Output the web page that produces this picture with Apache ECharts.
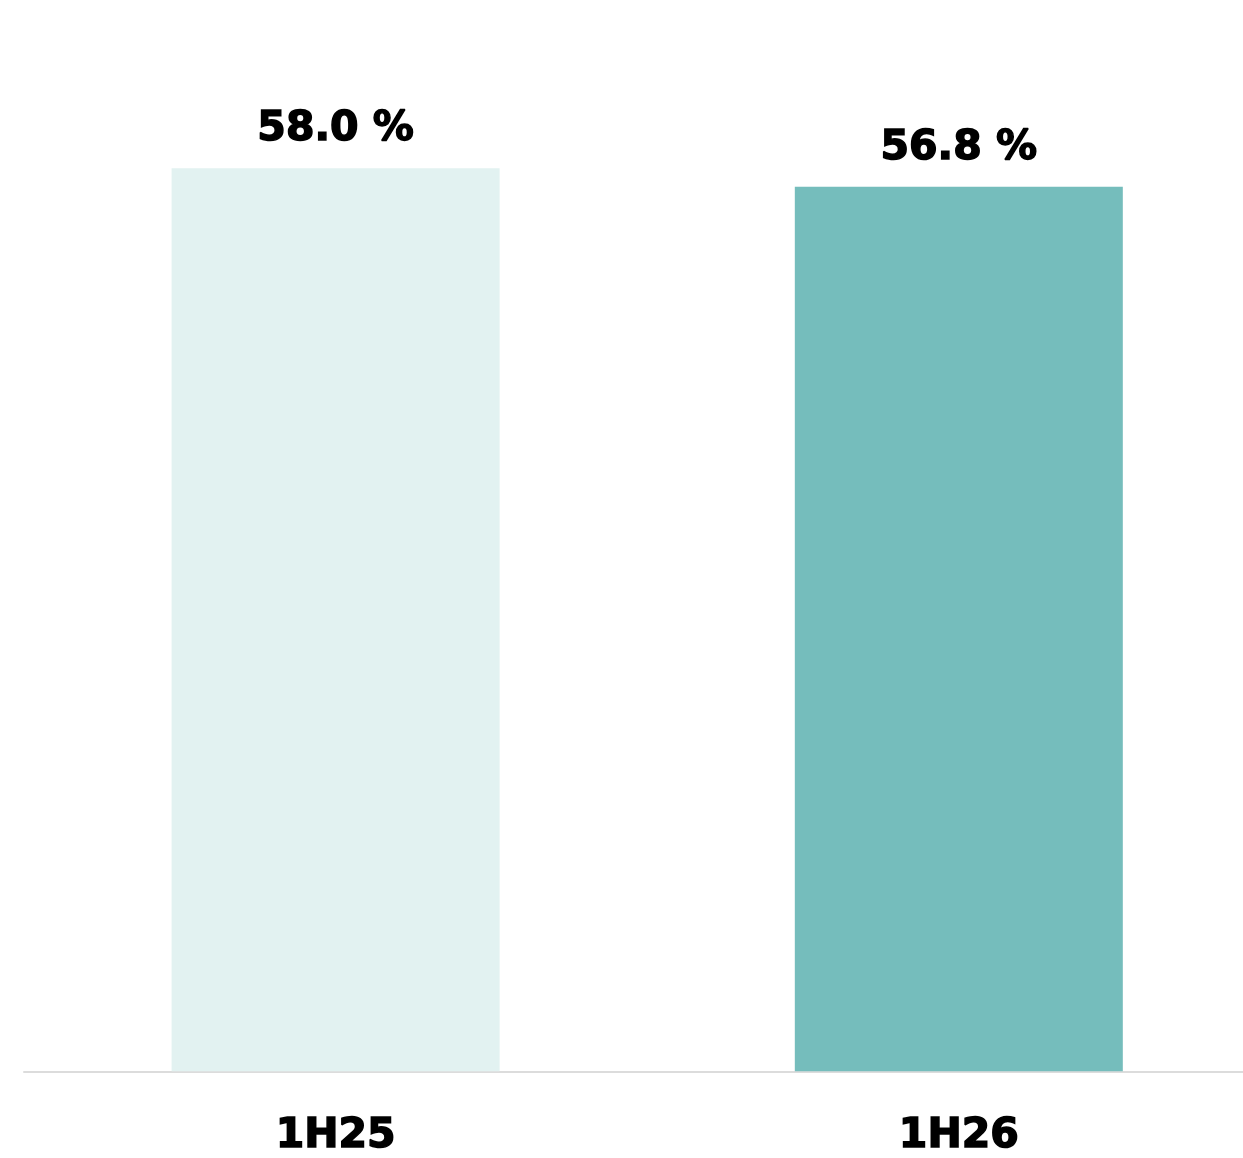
<!DOCTYPE html>
<html>
<head>
<meta charset="utf-8">
<script src="https://cdn.jsdelivr.net/npm/echarts@6/dist/echarts.min.js"></script>
<style>
  html, body { margin: 0; padding: 0; background: #fff; }
  #chart { width: 1243px; height: 1158px; }
</style>
</head>
<body>
<div id="chart"></div>
<script>
  var categories = ['1H25', '1H26'];
  var values = [58.0, 56.8];
  var barColors = ['#e2f2f1', '#75bdbc'];

  var chart = echarts.init(document.getElementById('chart'));
  chart.setOption({
    animation: false,
    backgroundColor: '#ffffff',
    grid: { left: 24, right: 0, top: 137, bottom: 86 },
    // value x axis so the plot can run past the right edge (bars at ~336 / ~959)
    xAxis: {
      type: 'value',
      min: -0.5,
      max: 1.456,
      splitLine: { show: false },
      axisLine: { show: true, onZero: false, lineStyle: { color: '#dcdcdc', width: 2 } },
      axisTick: { show: false },
      axisLabel: {
        customValues: [0, 1],
        margin: 45,
        color: '#000',
        fontFamily: 'DejaVu Sans',
        fontWeight: 'bold',
        fontSize: 41,
        textBorderColor: '#000',
        textBorderWidth: 1.5,
        formatter: function (v) { return categories[Math.round(v)]; }
      }
    },
    yAxis: {
      type: 'value',
      min: 0,
      max: 60,
      show: false,
      splitLine: { show: false }
    },
    series: [{
      type: 'bar',
      barWidth: 328,
      data: values.map(function (v, i) {
        return { value: [i, v], itemStyle: { color: barColors[i] } };
      }),
      label: {
        show: true,
        position: 'top',
        distance: 18,
        color: '#000',
        fontFamily: 'DejaVu Sans',
        fontWeight: 'bold',
        fontSize: 41,
        textBorderColor: '#000',
        textBorderWidth: 1.5,
        formatter: function (p) { return p.value[1].toFixed(1) + ' %'; }
      }
    }]
  });
</script>
</body>
</html>
